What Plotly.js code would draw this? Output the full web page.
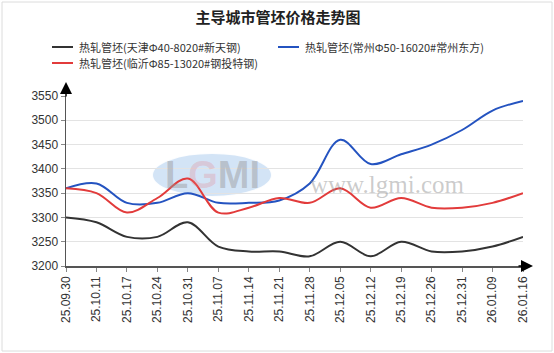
<!DOCTYPE html>
<html><head><meta charset="utf-8">
<script src="https://cdn.plot.ly/plotly-3.0.1.min.js"></script>
<style>body{margin:0;background:#fff}#c{width:554px;height:353px}</style>
</head><body><div id="c"></div>
<script>
const dates = ["25.09.30","25.10.11","25.10.17","25.10.24","25.10.31","25.11.07","25.11.14","25.11.21","25.11.28","25.12.05","25.12.12","25.12.19","25.12.26","25.12.31","26.01.09","26.01.16"];
const tianjin = [3300,3290,3260,3260,3290,3240,3230,3230,3220,3250,3220,3250,3230,3230,3240,3260];
const changzhou = [3360,3370,3330,3330,3350,3330,3330,3335,3370,3460,3410,3430,3450,3480,3520,3540];
const linyi = [3360,3350,3310,3340,3380,3310,3320,3340,3330,3360,3320,3340,3320,3320,3330,3350];
const names = ["热轧管坯(天津Φ40-8020#新天钢)","热轧管坯(常州Φ50-16020#常州东方)","热轧管坯(临沂Φ85-13020#钢投特钢)"];
const colors = ['#333333','#2453c0','#e23b3b'];
const yTicks = [3200,3250,3300,3350,3400,3450,3500,3550];

const idx = dates.map((d,i)=>i);
function tr(y,name,color){
  return {x:idx,y:y,name:name,type:'scatter',mode:'lines',
    line:{color:color,width:2,shape:'spline',smoothing:1},hoverinfo:'skip'};
}
const data = [tr(tianjin,names[0],colors[0]),tr(changzhou,names[1],colors[1]),tr(linyi,names[2],colors[2])];

const L=66,R=31,T=96,B=87,W=554,H=353;
const pw=W-L-R, ph=H-T-B;
const px = x => (x-L)/pw;          // pixel x -> paper
const py = y => (H-B-y)/ph;        // pixel y -> paper
const cjk = 'Noto Sans CJK SC, sans-serif';
const font = 'Liberation Sans, Arial, Noto Sans CJK SC, sans-serif';

// manual legend positions (pixels)
const legendPos = [[52,47],[278,47],[52,63]];
const shapes = [
  {type:'rect',xref:'paper',yref:'paper',x0:px(2),x1:px(552),y0:py(351),y1:py(2),
    line:{color:'#dcdcdc',width:1},fillcolor:'rgba(0,0,0,0)',layer:'below'},
  {type:'circle',xref:'paper',yref:'paper',x0:px(152),x1:px(272),y0:py(197),y1:py(153),
    line:{color:'rgba(255,255,255,0.9)',width:2},fillcolor:'rgba(175,205,238,0.55)',layer:'below'}
];
const annotations = [
  {xref:'paper',yref:'paper',x:0,y:py(82),ax:0,ay:16,showarrow:true,arrowhead:2,arrowsize:1.6,arrowwidth:1.5,arrowcolor:'#000',text:''},
  {xref:'paper',yref:'paper',x:px(533),y:0,ax:-16,ay:0,showarrow:true,arrowhead:2,arrowsize:1.6,arrowwidth:1.5,arrowcolor:'#000',text:''},
  {xref:'paper',yref:'paper',x:px(387),y:py(184),xanchor:'center',yanchor:'middle',showarrow:false,text:'www.lgmi.com',
    font:{family:'Liberation Serif, DejaVu Serif, serif',size:25,color:'rgba(140,140,140,0.45)'}},
  {xref:'paper',yref:'paper',x:px(212),y:py(175),xanchor:'center',yanchor:'middle',showarrow:false,
    text:"<b>L<span style='color:rgba(230,120,130,0.6)'>G</span>MI</b>",
    font:{family:'Liberation Sans, Arial, sans-serif',size:38,color:'rgba(150,150,150,0.45)'}}
];
legendPos.forEach((p,i)=>{
  shapes.push({type:'line',xref:'paper',yref:'paper',x0:px(p[0]),x1:px(p[0]+21),y0:py(p[1]),y1:py(p[1]),
    line:{color:colors[i],width:2}});
  annotations.push({xref:'paper',yref:'paper',x:px(p[0]+25),y:py(p[1]),xanchor:'left',yanchor:'middle',
    showarrow:false,text:names[i],font:{family:cjk,size:11,color:'#333'}});
});

const layout = {
  width:W,height:H,margin:{l:L,r:R,t:T,b:B},
  paper_bgcolor:'#fff',plot_bgcolor:'#fff',
  font:{family:font,size:12,color:'#333'},
  title:{text:'<b>主导城市管坯价格走势图</b>',x:278/W,xref:'container',xanchor:'center',y:1-18/H,yref:'container',yanchor:'middle',
    font:{family:cjk,size:15,color:'#222'}},
  showlegend:false,
  xaxis:{range:[0,15],tickmode:'array',tickvals:idx,ticktext:dates,tickangle:-90,
    showgrid:false,zeroline:false,showline:true,linecolor:'#555',linewidth:1.5,
    ticks:'outside',ticklen:4,tickcolor:'#888',tickfont:{size:12,color:'#333'},fixedrange:true},
  yaxis:{range:[3200,3550],tickmode:'array',tickvals:yTicks,
    showgrid:true,gridcolor:'#e3e3e3',gridwidth:1,zeroline:false,showline:true,linecolor:'#555',linewidth:1.5,
    ticks:'outside',ticklen:4,tickcolor:'#888',tickfont:{size:12,color:'#333'},fixedrange:true},
  annotations:annotations,
  shapes:shapes
};
Plotly.newPlot('c',data,layout,{displayModeBar:false,staticPlot:true});
</script></body></html>
